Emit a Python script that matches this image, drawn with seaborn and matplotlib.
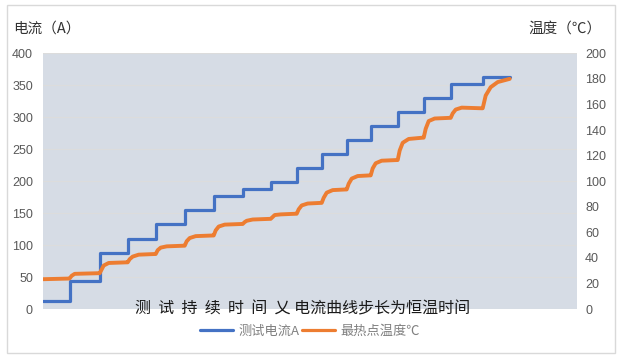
import matplotlib
matplotlib.use("Agg")
import matplotlib.pyplot as plt
import seaborn as sns
import pandas as pd
from matplotlib.patches import Rectangle
from matplotlib.lines import Line2D

# ---- data (time in arbitrary test units) ----
step_start = [0, 27, 57, 85, 113, 142, 171, 200, 228, 254, 279, 304, 328, 355, 381, 408, 440, 467]
current_a = [12, 44, 88, 110, 133, 155, 176, 187, 198, 220, 242, 264, 286, 308, 330, 352, 363, 363]

temp_t = [0, 26, 27, 29, 32, 56,
          57, 59, 61, 66, 84,
          85, 87, 90, 96, 112,
          113, 115, 118, 124, 141,
          142, 144, 147, 153, 170,
          171, 173, 176, 182, 199,
          200, 202, 204, 210, 227,
          228, 230, 232, 238, 253,
          254, 256, 259, 265, 278,
          279, 281, 284, 290, 303,
          304, 306, 309, 315, 327,
          328, 330, 333, 339, 354,
          355, 357, 360, 366, 380,
          381, 383, 386, 392, 407,
          408, 410, 413, 419, 439,
          440, 443, 448, 455, 467]
temp_c = [23.3, 23.8, 24.0, 26.0, 27.5, 28.0,
          28.0, 31.0, 34.0, 36.0, 36.5,
          36.5, 39.0, 41.0, 42.5, 43.0,
          43.0, 46.0, 48.0, 49.0, 49.5,
          49.5, 53.0, 55.5, 57.0, 57.5,
          57.5, 61.5, 64.5, 66.0, 66.5,
          66.5, 68.0, 69.0, 70.0, 70.5,
          70.5, 72.0, 73.5, 74.0, 74.5,
          74.5, 78.0, 81.0, 82.5, 83.0,
          83.0, 87.0, 91.0, 93.0, 93.5,
          93.5, 98.0, 102.0, 104.0, 104.5,
          104.5, 110.0, 114.0, 116.0, 116.5,
          116.5, 124.0, 130.0, 133.0, 134.0,
          134.0, 141.0, 147.0, 149.0, 149.5,
          149.5, 153.0, 156.0, 157.5, 157.0,
          157.0, 167.0, 173.5, 177.5, 180.0]

left_ticks = [0, 50, 100, 150, 200, 250, 300, 350, 400]
right_ticks = [0, 20, 40, 60, 80, 100, 120, 140, 160, 180, 200]

df_i = pd.DataFrame({"t": step_start, "I": current_a})
df_T = pd.DataFrame({"t": temp_t, "T": temp_c})

sns.set_theme(style="white")
plt.rcParams["font.family"] = ["Noto Sans CJK SC", "DejaVu Sans"]

W, H = 621, 361
fig = plt.figure(figsize=(W / 100, H / 100), dpi=100)
fig.patch.set_facecolor("white")

# outer chart frame
fig.add_artist(Rectangle((7 / W, 1 - 353 / H), (615 - 7) / W, (353 - 5) / H,
                         transform=fig.transFigure, fill=False,
                         edgecolor="#d9d9d9", linewidth=1.0))

L, R, T, B = 42.7, 576.7, 53.3, 309
ax = fig.add_axes([L / W, 1 - B / H, (R - L) / W, (B - T) / H])
ax.set_facecolor("#d6dce5")

blue = "#4472C4"
orange = "#ED7D31"

sns.lineplot(data=df_i, x="t", y="I", ax=ax, color=blue, linewidth=2.3,
             drawstyle="steps-post", legend=False, errorbar=None, sort=False)
ax.set_xlim(0, R - L)
ax.set_ylim(0, 400)
ax.set_yticks(left_ticks)
ax.set_xticks([])
ax.set_xlabel("")
ax.set_ylabel("")
ax.grid(axis="y", color="#dcdcdc", linewidth=0.8)
ax.set_axisbelow(True)
for s in ax.spines.values():
    s.set_visible(False)
ax.tick_params(axis="y", length=0, pad=7, labelsize=9, labelcolor="#595959")
for lb in ax.get_yticklabels():
    lb.set_fontfamily(["Liberation Sans", "DejaVu Sans"])

ax2 = ax.twinx()
sns.lineplot(data=df_T, x="t", y="T", ax=ax2, color=orange, linewidth=2.8,
             legend=False, errorbar=None, sort=False)
ax2.set_ylim(0, 200)
ax2.set_yticks(right_ticks)
ax2.set_xlim(0, R - L)
ax2.set_ylabel("")
ax2.set_xlabel("")
for s in ax2.spines.values():
    s.set_visible(False)
ax2.tick_params(axis="y", length=0, pad=6, labelsize=9, labelcolor="#595959")
for lb in ax2.get_yticklabels():
    lb.set_fontfamily(["Liberation Sans", "DejaVu Sans"])

# axis titles
fig.text(13 / W, 1 - 29 / H, "电流（A）", ha="left", va="center",
         fontsize=10.5, color="#333333")
fig.text(602 / W, 1 - 29 / H, "温度（℃）", ha="right", va="center",
         fontsize=10.5, color="#333333")

# annotation inside plot
fig.text(135 / W, 1 - 309 / H, "测  试  持  续  时  间  乂 电流曲线步长为恒温时间",
         ha="left", va="center", fontsize=11.5, color="#1a1a1a")

handles = [Line2D([], [], color=blue, linewidth=2.3),
           Line2D([], [], color=orange, linewidth=2.3)]
fig.legend(handles, ["测试电流A", "最热点温度℃"], loc="center",
           bbox_to_anchor=(310 / W, 1 - 331.5 / H), ncol=2, frameon=False,
           fontsize=9.5, labelcolor="#808080", handlelength=2.5,
           handletextpad=0.4, columnspacing=0.2, borderpad=0.2)

fig.savefig("out.png", dpi=100, facecolor="white")
